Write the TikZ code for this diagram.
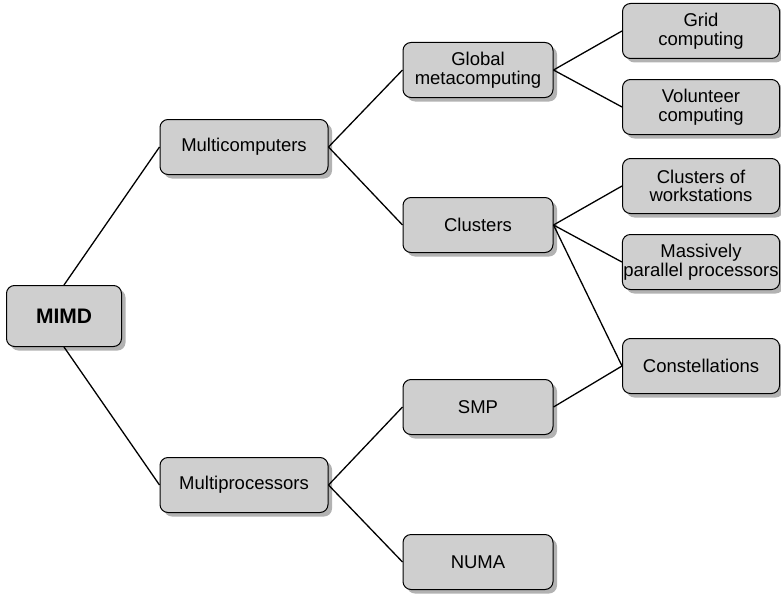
\documentclass[tikz,border=0pt]{standalone}
\usepackage{fontspec}
\setmainfont{Liberation Sans}
\usetikzlibrary{shadows}

\begin{document}
\begin{tikzpicture}[x=1pt,y=-1pt,
    box/.style={draw=black, line width=1pt, fill=black!19, rounded corners=8pt,
      minimum height=55pt, inner sep=1pt, align=center,
      font=\fontsize{18.5}{18.5}\selectfont,
      drop shadow={shadow xshift=4pt, shadow yshift=-4pt, opacity=0.3, fill=black}},
    link/.style={line width=1.3pt}]
    \useasboundingbox (0,0) rectangle (781,594);
    % root and first level
    \node[box, minimum width=115pt, minimum height=61pt, font=\fontsize{21}{22}\selectfont\bfseries] (mimd) at (64,316) {MIMD};
    \node[box, minimum width=168pt] (mcomp) at (244,147) {Multicomputers};
    \node[box, minimum width=168pt] (mproc) at (244,485) {Multiprocessors};
    % second level
    \node[box, minimum width=150pt] (global) at (478,70) {Global\\metacomputing};
    \node[box, minimum width=150pt] (clust) at (478,225) {Clusters};
    \node[box, minimum width=150pt] (smp) at (478,407) {SMP};
    \node[box, minimum width=150pt] (numa) at (478,562) {NUMA};
    % third level
    \node[box, minimum width=157pt] (grid) at (701,31) {Grid\\computing};
    \node[box, minimum width=157pt] (volun) at (701,107) {Volunteer\\computing};
    \node[box, minimum width=157pt] (cow) at (701,186) {Clusters of\\workstations};
    \node[box, minimum width=157pt] (mpp) at (701,262) {Massively\\parallel processors};
    \node[box, minimum width=157pt] (const) at (701,366) {Constellations};
    % connectors
    \draw[link] (mimd.north) -- (mcomp.west);
    \draw[link] (mimd.south) -- (mproc.west);
    \foreach \a/\b in {mcomp/global, mcomp/clust, mproc/smp, mproc/numa, global/grid, global/volun, clust/cow, clust/mpp, clust/const, smp/const} {\draw[link] (\a.east) -- (\b.west);}
\end{tikzpicture}
\end{document}
